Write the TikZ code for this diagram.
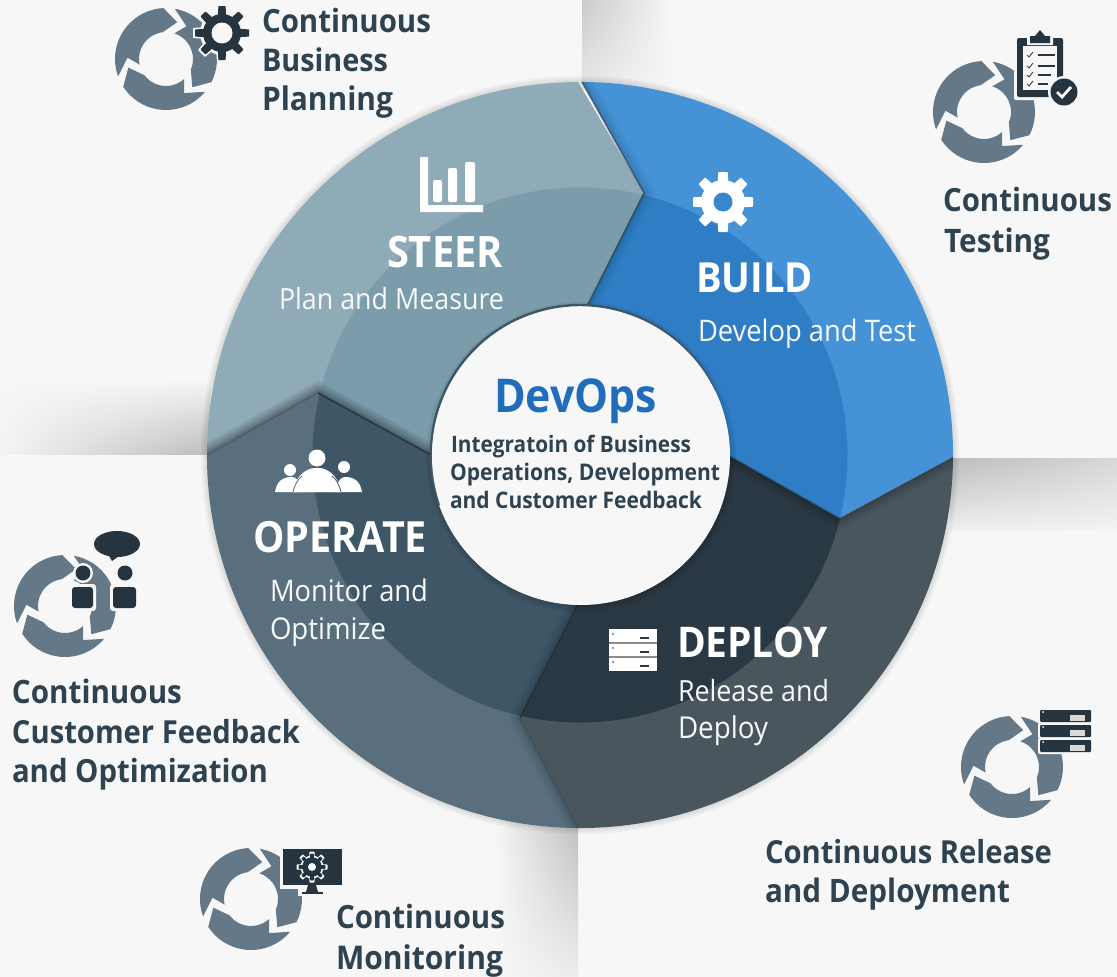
\documentclass[tikz,border=0pt]{standalone}
\usepackage{fontspec}
\usepackage{graphicx}
\usetikzlibrary{fadings}
\newfontfamily\hf{Open Sans}[FakeStretch=0.92]
\definecolor{bgc}{HTML}{F7F7F7}
\definecolor{ringc}{HTML}{647887}
\definecolor{inkc}{HTML}{2F4250}
\definecolor{darkc}{HTML}{26343F}
\definecolor{steerA}{HTML}{8FABB8}
\definecolor{steerB}{HTML}{7A9CAB}
\definecolor{buildA}{HTML}{4592D6}
\definecolor{buildB}{HTML}{2F7EC5}
\definecolor{deployA}{HTML}{4A565E}
\definecolor{deployB}{HTML}{2A3844}
\definecolor{operA}{HTML}{5A6F7E}
\definecolor{operB}{HTML}{3F5666}
\definecolor{devblue}{HTML}{1F6DBB}
\tikzfading[name=fadeE,left color=transparent!0,right color=transparent!100]
\tikzfading[name=fadeW,left color=transparent!100,right color=transparent!0]
\tikzfading[name=fadeS,top color=transparent!0,bottom color=transparent!100]
\tikzfading[name=fadeN,top color=transparent!100,bottom color=transparent!0]
\tikzset{
  lbl/.style={anchor=base west,inner sep=0pt,outer sep=0pt},
  head/.style={lbl,text=inkc,font={\hf\bfseries\fontsize{30}{34}\selectfont}},
  segt/.style={lbl,text=white,font={\hf\bfseries\fontsize{36}{40}\selectfont}},
  segs/.style={lbl,text=white!92!steerA,font={\hf\fontsize{28}{32}\selectfont}},
  hubs/.style={lbl,text=inkc,font={\hf\bfseries\fontsize{20}{24}\selectfont}},
}
\newcommand\mylbl[6]{\node[#5] (#1) at (#2,#3) {\resizebox{#4pt}{!}{#6}};}
\newcommand\gearicon[8]{%
  \foreach \aa in {0,45,...,315}{
    \fill[#7,shift={(#1,#2)},rotate=\aa,rounded corners=0.6pt] (-#6,0) -- (-0.72*#6,#3) -- (0.72*#6,#3) -- (#6,0) -- cycle;
  }
  \fill[#7] (#1,#2) circle[radius=#4];
  \fill[#8] (#1,#2) circle[radius=#5];
}
\newcommand\cycleicon[2]{%
  \foreach \rr in {0,120,240}{
    \begin{scope}[shift={(#1,#2)},rotate=\rr]
      \fill[ringc] (-200:51) arc[start angle=-200,end angle=-93,radius=51] -- (-73:38.6) -- (-97:27) arc[start angle=-97,end angle=-192,radius=27] -- (-178:38.6) -- cycle;
    \end{scope}
  }
}
\def\pathBuild{(582,82) arc[start angle=-89.7,end angle=0.3,radius=373] -- (840,518) -- (729,455) arc[start angle=0,end angle=-87.3,radius=149] -- (644,193) -- cycle}
\def\pathDeploy{(953,457) arc[start angle=0.3,end angle=90.3,radius=373] -- (520,718) -- (578,604) arc[start angle=90.8,end angle=0,radius=149] -- (840,518) -- cycle}
\def\pathOperate{(578,828) arc[start angle=90.3,end angle=180,radius=373] -- (318,393) -- (431,455) arc[start angle=180,end angle=90.8,radius=149] -- (520,718) -- cycle}
\def\pathSteer{(207,455) arc[start angle=180,end angle=269.7,radius=373] -- (644,193) -- (587,306) arc[start angle=272.7,end angle=180,radius=149] -- (318,393) -- cycle}
\newcommand\whseg[3]{%
  \fill[#2] #1;
  \begin{scope}\clip #1; \fill[#3] (580,455) circle[radius=267.5]; \end{scope}
}
\newcommand\tipcast[3]{%
  \begin{scope}\clip #1;
    \foreach \wd in {3,6,10,15,21}{ \draw[black,opacity=#3,line width=\wd pt,line join=miter] #2; }
  \end{scope}
}
\begin{document}
\begin{tikzpicture}[x=1pt,y=-1pt]
\useasboundingbox (0,0) rectangle (1117,977);
\fill[bgc] (0,0) rectangle (1117,977);
% panel shadows at the seams
\begin{scope}\clip (582.5,0) rectangle (700,90);
  \shade[top color=black!24!bgc,bottom color=black!3!bgc,path fading=fadeE] (552,-2) rectangle (672,120);
\end{scope}
\begin{scope}\clip (0,360) rectangle (210,454);
  \shade[left color=bgc,right color=black!40!bgc,path fading=fadeN] (-10,380) rectangle (270,480);
\end{scope}
\begin{scope}\clip (950,458.5) rectangle (1117,530);
  \shade[left color=black!38!bgc,right color=black!10!bgc,path fading=fadeS] (874,430) rectangle (1198,540);
\end{scope}
\begin{scope}\clip (490,820) rectangle (578,977);
  \shade[top color=black!38!bgc,bottom color=bgc,path fading=fadeW] (495,770) rectangle (605,1010);
\end{scope}
% soft halo of the wheel
\foreach \wd in {4,8,12}{ \draw[black,opacity=0.035,line width=\wd pt] (580,455) circle[radius=373]; }
% wheel
\whseg{\pathSteer}{steerA}{steerB}
\whseg{\pathBuild}{buildA}{buildB}
\whseg{\pathDeploy}{deployA}{deployB}
\whseg{\pathOperate}{operA}{operB}
% cast shadows of the tips
\tipcast{\pathSteer}{(207,455) -- (318,393) -- (431,455)}{0.09}
\tipcast{\pathBuild}{(582,82) -- (644,193) -- (587,306)}{0.03}
\tipcast{\pathDeploy}{(953,457) -- (840,518) -- (729,455)}{0.05}
\tipcast{\pathOperate}{(578,828) -- (520,718) -- (578,604)}{0.04}
\draw[black!70!steerB,opacity=.55,line width=1.6pt] (582,82) -- (644,193) -- (587,306);
\draw[buildB!70!deployB,line width=1.2pt] (840,518) -- (729,455);
\draw[operB!60!black,line width=1.4pt] (318,393) -- (431,455);
\draw[operA!85!black,line width=1pt] (208,455) -- (318,393);
\draw[deployB!80!black,line width=1.2pt] (520,718) -- (578,604);
\draw[operA!70!black,line width=1pt] (520,718) -- (578,828);
% hub
\foreach \wd in {3,7,12}{ \draw[black,opacity=0.05,line width=\wd pt] (581,457) circle[radius=149]; }
\fill[bgc] (580,455) circle[radius=149.5];
\draw[operB,line width=2.4pt] (440,505) arc[start angle=160,end angle=335,radius=149];
\fill[bgc] (581,456) circle[radius=149];
% STEER icon
\fill[white] (420,157) -- (428,157) -- (428,205) -- (483,205) -- (483,212) -- (420,212) -- cycle;
\fill[white,rounded corners=2pt] (433,180) rectangle (442,202);
\fill[white,rounded corners=2pt] (448,168) rectangle (457,202);
\fill[white,rounded corners=2pt] (465,162) rectangle (475,202);
% BUILD icon
\gearicon{723}{202}{30}{22}{9.5}{6.5}{white}{buildB!60!buildA}
% OPERATE icon
\fill[white] (290,470) circle[radius=6];
\fill[white] (344,467) circle[radius=6];
\fill[white] (275,492) .. controls (277,480) and (284,477) .. (292,477) .. controls (296,477) and (299,480) .. (302,492) -- cycle;
\fill[white] (362,492) .. controls (360,480) and (353,477) .. (345,477) .. controls (341,477) and (338,480) .. (335,492) -- cycle;
\fill[white] (317,458) circle[radius=8.5];
\draw[white,fill=white] (293,492) .. controls (296,476) and (306,468) .. (317,468) .. controls (328,468) and (338,476) .. (341,492) -- cycle;
\draw[operA,line width=.8pt] (293,492) .. controls (295,484) and (298,479) .. (302,476);
\draw[operB,line width=.8pt] (341,492) .. controls (339,484) and (336,479) .. (332,476);
% DEPLOY icon
\fill[white] (609,629) rectangle (657,671);
\draw[black!45,line width=1.2pt] (609,643) -- (657,643);
\draw[black!45,line width=1.2pt] (609,657) -- (657,657);
\foreach \yy in {638,652,666}{ \fill[deployB] (640,\yy-1) rectangle (649,\yy+1); }
\foreach \yy in {634,648,662}{ \fill[black!40] (612,\yy-1) rectangle (614,\yy+1); }
% icon 1: business planning
\cycleicon{166}{59}
\gearicon{222}{33}{29}{22}{12}{7}{bgc}{bgc}
\gearicon{222}{33}{27}{19}{10.5}{5}{darkc}{bgc}
% icon 2: testing
\cycleicon{984}{112}
\fill[bgc,rounded corners=2pt] (1014,35) rectangle (1066,100);
\fill[darkc,rounded corners=2pt] (1017,38) rectangle (1063,97);
\fill[bgc] (1023,46) rectangle (1057,90);
\fill[bgc] (1040,26) -- (1047,34) -- (1053,34) -- (1053,45) -- (1027,45) -- (1027,34) -- (1033,34) -- cycle;
\fill[darkc] (1040,30) -- (1045,36) -- (1050,36) -- (1050,43) -- (1030,43) -- (1030,36) -- (1035,36) -- cycle;
\foreach \yy/\xe in {55/1055,66/1055,75/1051,84/1048}{
  \draw[darkc,line width=1.8pt] (1038,\yy) -- (\xe,\yy);
  \draw[black!40!ringc,line width=.9pt] (1027,\yy) -- (1029,\yy+2) -- (1033,\yy-3);
}
\fill[bgc] (1064,92) circle[radius=16];
\fill[darkc] (1064,92) circle[radius=13.5];
\draw[white,line width=2.8pt] (1057,92) -- (1062,97) -- (1071,87);
% icon 3: customer feedback
\cycleicon{65}{606}
\fill[bgc,rounded corners=3pt] (69,584) rectangle (96,611);
\fill[bgc] (83,573) circle[radius=10];
\fill[bgc,rounded corners=3pt] (110,584) rectangle (139,611);
\fill[bgc] (125,573) circle[radius=10];
\fill[darkc] (117,544) ellipse[x radius=23,y radius=13];
\fill[darkc] (108,554) -- (112,561) -- (122,554) -- cycle;
\fill[darkc] (83,573) circle[radius=7.5];
\fill[darkc,rounded corners=3pt] (72,587) rectangle (93,608);
\fill[darkc] (125,573) circle[radius=7.5];
\fill[darkc,rounded corners=3pt] (113,587) rectangle (136,608);
% icon 4: monitoring
\cycleicon{251}{899}
\fill[bgc] (280,846) rectangle (345,889);
\fill[bgc] (298,885) rectangle (326,896);
\fill[darkc] (283,849) rectangle (342,885);
\fill[darkc] (308,885) -- (316,885) -- (318,892) -- (306,892) -- cycle;
\fill[darkc] (302,892) rectangle (323,894);
\gearicon{312}{867}{15.5}{11.5}{6.5}{3.4}{white}{white}
\gearicon{312}{867}{13.5}{9.8}{8}{2.4}{darkc}{darkc}
\fill[white] (312,867) circle[radius=4];
% icon 5: release
\cycleicon{1012}{767}
\foreach \yy in {709,724,739}{
  \fill[bgc,rounded corners=2pt] (1038,\yy-1) rectangle (1092,\yy+15);
  \fill[darkc,rounded corners=1pt] (1040,\yy+1) rectangle (1091,\yy+13);
  \fill[black!15] (1070,\yy+6) rectangle (1085,\yy+12);
  \fill[bgc] (1043,\yy+3) circle[radius=1];
}
% outside headings
\mylbl{a1}{262}{32}{169}{head}{Continuous}
\mylbl{a2}{262}{71}{126}{head}{Business}
\mylbl{a3}{262}{110}{131}{head}{Planning}
\mylbl{b1}{943}{211}{169}{head}{Continuous}
\mylbl{b2}{944}{252}{106}{head}{Testing}
\mylbl{c1}{12}{703}{170}{head}{Continuous}
\mylbl{c2}{12}{743}{288}{head}{Customer Feedback}
\mylbl{c3}{12}{782}{256}{head}{and Optimization}
\mylbl{d1}{336}{928}{169}{head}{Continuous}
\mylbl{d2}{336}{969}{167}{head}{Monitoring}
\mylbl{e1}{765}{863}{287}{head}{Continuous Release}
\mylbl{e2}{765}{902}{245}{head}{and Deployment}
% wheel labels
\mylbl{s1}{387}{267}{116}{segt}{STEER}
\mylbl{s2}{279}{309}{225}{segs}{Plan and Measure}
\mylbl{t1}{696}{292}{117}{segt}{BUILD}
\mylbl{t2}{698}{341}{218}{segs}{Develop and Test}
\mylbl{o1}{253}{552}{174}{segt}{OPERATE}
\mylbl{o2}{270}{601}{158}{segs}{Monitor and}
\mylbl{o3}{270}{639}{116}{segs}{Optimize}
\mylbl{p1}{677}{657}{151}{segt}{DEPLOY}
\mylbl{p2}{678}{701}{151}{segs}{Release and}
\mylbl{p3}{678}{738}{90}{segs}{Deploy}
% hub text
\mylbl{h0}{494}{412}{163}{segt,text=devblue}{DevOps}
\mylbl{h1}{451}{452}{240}{hubs}{Integratoin of Business}
\mylbl{h2}{450}{480}{270}{hubs}{Operations, Development}
\mylbl{h3}{450}{508}{252}{hubs}{and Customer Feedback}
\end{tikzpicture}
\end{document}
